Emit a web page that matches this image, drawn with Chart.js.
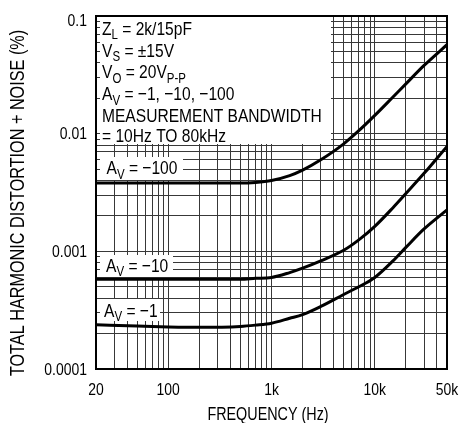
<!DOCTYPE html>
<html>
<head>
<meta charset="utf-8">
<script src="https://cdn.jsdelivr.net/npm/chart.js@4.4.1/dist/chart.umd.min.js"></script>
<style>
  html, body { margin: 0; padding: 0; background: #fff; }
  #wrap { width: 475px; height: 423px; }
</style>
</head>
<body>
<div id="wrap"><canvas id="thd" width="475" height="423"></canvas></div>
<script>
'use strict';

// THD+N vs frequency, three closed-loop gains
const frequencies = [20, 50, 100, 200, 500, 700, 1000, 1500, 2000, 3000, 5000, 7000, 10000, 15000, 20000, 30000, 50000];
const thdGain100 = [0.0038, 0.0038, 0.0038, 0.0038, 0.0038, 0.00385, 0.0040, 0.0044, 0.0049, 0.0060, 0.0082, 0.0106, 0.0143, 0.0205, 0.0265, 0.038, 0.057];
const thdGain10 = [0.00058, 0.00058, 0.00058, 0.00058, 0.00058, 0.00059, 0.00060, 0.00066, 0.00072, 0.00083, 0.00102, 0.00125, 0.00163, 0.00235, 0.0031, 0.0046, 0.0078];
const thdGain1 = [0.000238, 0.000232, 0.000228, 0.000226, 0.00023, 0.000236, 0.000245, 0.00027, 0.00029, 0.00034, 0.00043, 0.0005, 0.0006, 0.00083, 0.00108, 0.00155, 0.00225];

// Grid lines (log paper) and the labelled ticks
const xGridValues = [20, 30, 40, 50, 60, 70, 80, 90,
  100, 200, 300, 400, 500, 600, 700, 800, 900,
  1000, 2000, 3000, 4000, 5000, 6000, 7000, 8000, 9000,
  10000, 20000, 30000, 40000, 50000];
const yGridValues = [0.0001, 0.0002, 0.0003, 0.0004, 0.0005, 0.0006, 0.0007, 0.0008, 0.0009,
  0.001, 0.002, 0.003, 0.004, 0.005, 0.006, 0.007, 0.008, 0.009,
  0.01, 0.02, 0.03, 0.04, 0.05, 0.06, 0.07, 0.08, 0.09, 0.1];
const xLabelValues = [20, 100, 1000, 10000, 50000];
const xTickLabels = ['20', '100', '1k', '10k', '50k'];
const yLabelValues = [0.0001, 0.001, 0.01, 0.1];
const yTickLabels = ['0.0001', '0.001', '0.01', '0.1'];
const xTitle = 'FREQUENCY (Hz)';
const yTitle = 'TOTAL HARMONIC DISTORTION + NOISE (%)';

// Text blocks: each line is a list of [text, isSubscript]
const conditionLines = [
  [['Z', false], ['L', true], [' = 2k/15pF', false]],
  [['V', false], ['S', true], [' = \u00b115V', false]],
  [['V', false], ['O', true], [' = 20V', false], ['P-P', true]],
  [['A', false], ['V', true], [' = \u22121, \u221210, \u2212100', false]],
  [['MEASUREMENT BANDWIDTH', false]],
  [['= 10Hz TO 80kHz', false]],
];
const curveLabels = [
  [['A', false], ['V', true], [' = \u2212100', false]],
  [['A', false], ['V', true], [' = \u221210', false]],
  [['A', false], ['V', true], [' = \u22121', false]],
];

const FONT = "'Liberation Sans', Arial, Helvetica, sans-serif";
const NARROW = 0.82; // horizontal squeeze to mimic a condensed face

// draw text squeezed horizontally, anchored at (x, y)
function drawNarrow(ctx, text, x, y, size, align, baseline, rotate) {
  ctx.save();
  ctx.translate(x, y);
  if (rotate) ctx.rotate(rotate);
  ctx.scale(NARROW, 1);
  ctx.font = `${size}px ${FONT}`;
  ctx.textAlign = align;
  ctx.textBaseline = baseline;
  ctx.fillText(text, 0, 0);
  ctx.restore();
}

function drawRichText(ctx, parts, x, y) {
  ctx.save();
  ctx.translate(x, y);
  ctx.scale(NARROW, 1);
  ctx.textAlign = 'left';
  ctx.textBaseline = 'alphabetic';
  let cx = 0;
  parts.forEach(([text, sub]) => {
    ctx.font = sub ? `14px ${FONT}` : `19px ${FONT}`;
    ctx.fillText(text, cx, sub ? 4.5 : 0);
    cx += ctx.measureText(text).width;
  });
  ctx.restore();
}

const annotationPlugin = {
  id: 'annotations',
  beforeDatasetsDraw(chart) {
    const { ctx, chartArea } = chart;
    ctx.save();
    ctx.fillStyle = '#fff';
    // conditions block
    ctx.fillRect(100, chartArea.top + 1, 231, 127);
    // curve label boxes
    ctx.fillRect(100, 157, 83, 23);
    ctx.fillRect(100, 255, 73, 22);
    ctx.fillRect(100, 299, 60, 22);

    ctx.fillStyle = '#000';
    const baselines = [34.5, 56.5, 78.3, 100.3, 121.7, 141.7];
    conditionLines.forEach((line, i) => drawRichText(ctx, line, 102, baselines[i]));
    drawRichText(ctx, curveLabels[0], 106.5, 174.3);
    drawRichText(ctx, curveLabels[1], 106, 271.7);
    drawRichText(ctx, curveLabels[2], 104, 316.5);

    // plot frame
    ctx.strokeStyle = '#000';
    ctx.lineWidth = 2;
    ctx.strokeRect(chartArea.left, chartArea.top, chartArea.right - chartArea.left, chartArea.bottom - chartArea.top);
    ctx.restore();
  },
  afterDraw(chart) {
    const { ctx, chartArea, scales } = chart;
    ctx.save();
    ctx.fillStyle = '#000';
    xLabelValues.forEach((v, i) => {
      drawNarrow(ctx, xTickLabels[i], scales.x.getPixelForValue(v), 390.5, 17, 'center', 'middle');
    });
    yLabelValues.forEach((v, i) => {
      const y = Math.max(scales.y.getPixelForValue(v) + 1, chartArea.top + 5);
      drawNarrow(ctx, yTickLabels[i], 87, y, 17, 'right', 'middle');
    });
    drawNarrow(ctx, xTitle, 268, 415, 17.5, 'center', 'middle');
    drawNarrow(ctx, yTitle, 19, 203, 19.8, 'center', 'middle', -Math.PI / 2);
    ctx.restore();
  },
};

const curveStyle = {
  borderColor: '#000',
  borderWidth: 3,
  pointRadius: 0,
  fill: false,
  cubicInterpolationMode: 'monotone',
};

new Chart(document.getElementById('thd'), {
  type: 'line',
  data: {
    datasets: [
      { label: 'AV = -100', data: frequencies.map((f, i) => ({ x: f, y: thdGain100[i] })), ...curveStyle },
      { label: 'AV = -10', data: frequencies.map((f, i) => ({ x: f, y: thdGain10[i] })), ...curveStyle },
      { label: 'AV = -1', data: frequencies.map((f, i) => ({ x: f, y: thdGain1[i] })), ...curveStyle },
    ],
  },
  options: {
    responsive: false,
    animation: false,
    devicePixelRatio: 1,
    layout: { padding: { top: 16, right: 28, left: 0, bottom: 0 } },
    plugins: {
      legend: { display: false },
      tooltip: { enabled: false },
    },
    scales: {
      x: {
        type: 'logarithmic',
        min: 20,
        max: 50000,
        afterBuildTicks: (scale) => { scale.ticks = xGridValues.map((v) => ({ value: v })); },
        afterFit: (scale) => { scale.height = 54; },
        grid: { color: '#383838', lineWidth: 1, drawTicks: false },
        border: { display: false },
        ticks: { display: false, autoSkip: false },
      },
      y: {
        type: 'logarithmic',
        min: 0.0001,
        max: 0.1,
        afterBuildTicks: (scale) => { scale.ticks = yGridValues.map((v) => ({ value: v })); },
        afterFit: (scale) => { scale.width = 96; },
        grid: { color: '#383838', lineWidth: 1, drawTicks: false },
        border: { display: false },
        ticks: { display: false, autoSkip: false },
      },
    },
  },
  plugins: [annotationPlugin],
});
</script>
</body>
</html>
